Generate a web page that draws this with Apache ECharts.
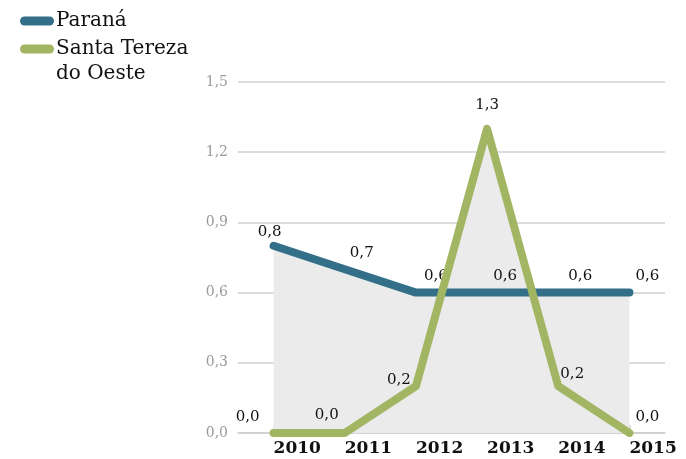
<!DOCTYPE html>
<html lang="pt-BR">
<head>
<meta charset="UTF-8">
<title>Paraná x Santa Tereza do Oeste</title>
<script src="https://cdn.jsdelivr.net/npm/echarts@6/dist/echarts.min.js"></script>
<style>
  body { margin: 0; background: #fff; }
  #chart { width: 686px; height: 459px; }
</style>
</head>
<body>
<div id="chart"></div>
<script>
// dados
const anos = ['2010', '2011', '2012', '2013', '2014', '2015'];
const parana = [0.8, 0.7, 0.6, 0.6, 0.6, 0.6];
const santaTereza = [0.0, 0.0, 0.2, 1.3, 0.2, 0.0];
const yTicks = [0, 0.3, 0.6, 0.9, 1.2, 1.5];

// deslocamento dos rótulos (x, y) por ponto
const offParana = [[-4, 0], [17, -2], [20, -2], [18, -2], [22, -2], [18, -2]];
const offSanta = [[-26, -2], [-18, -4], [-17, 8], [0, -10], [14, 2], [18, -2]];

const fmt = v => v.toFixed(1).replace('.', ',');
const serif = "'DejaVu Serif', serif";

function withLabels(values, offs) {
    return values.map((v, i) => ({
        value: v,
        label: { offset: offs[i] }
    }));
}

const chart = echarts.init(document.getElementById('chart'));

const lineBase = {
    type: 'line',
    symbol: 'circle',
    symbolSize: 1,
    z: 3,
    label: {
        show: true,
        position: 'top',
        distance: 6,
        formatter: p => fmt(p.value),
        color: '#111',
        fontFamily: serif,
        fontSize: 15
    },
    emphasis: { disabled: true }
};

const areaBase = {
    type: 'line',
    symbol: 'none',
    z: 1,
    lineStyle: { width: 0 },
    areaStyle: { color: '#ebebeb', opacity: 1 },
    silent: true,
    tooltip: { show: false }
};

chart.setOption({
    animation: false,
    grid: { left: 238, right: 21, top: 82, bottom: 26 },
    legend: {
        orient: 'vertical',
        left: 15,
        top: 2,
        itemWidth: 34,
        itemHeight: 9,
        itemGap: 0,
        icon: 'path://M4.5,0 H29.5 A4.5,4.5 0 0 1 29.5,9 H4.5 A4.5,4.5 0 0 1 4.5,0 Z',
        data: ['Paraná', 'Santa Tereza do Oeste'],
        formatter: n => n.replace(' do Oeste', ''),
        textStyle: { fontFamily: serif, fontSize: 20, color: '#111', lineHeight: 28, padding: [0, 0, 0, -3] }
    },
    // segunda linha do nome da legenda
    graphic: [{
        type: 'text',
        left: 56,
        top: 64,
        silent: true,
        style: { text: 'do Oeste', font: "20px 'DejaVu Serif', serif", fill: '#111' }
    }],
    xAxis: {
        type: 'category',
        data: anos,
        boundaryGap: true,
        axisLine: { lineStyle: { color: '#cfcfcf', width: 1.5 } },
        axisTick: { show: true, alignWithLabel: true, inside: true, length: 8, lineStyle: { color: '#cfcfcf', width: 1.5 } },
        axisLabel: {
            color: '#111',
            fontFamily: serif,
            fontSize: 17,
            fontWeight: 'bold',
            align: 'left',
            margin: 7
        }
    },
    yAxis: {
        type: 'value',
        min: yTicks[0],
        max: yTicks[yTicks.length - 1],
        interval: 0.3,
        axisLine: { show: false },
        axisTick: { show: false },
        splitLine: { lineStyle: { color: '#cfcfcf', width: 1.5 } },
        axisLabel: {
            color: '#9a9a9a',
            fontFamily: serif,
            fontSize: 14,
            margin: 10,
            formatter: v => fmt(v)
        }
    },
    series: [
        Object.assign({}, areaBase, { name: 'area-pr', data: parana }),
        Object.assign({}, areaBase, { name: 'area-st', data: santaTereza }),
        Object.assign({}, lineBase, {
            name: 'Paraná',
            color: '#336f88',
            data: withLabels(parana, offParana),
            lineStyle: { color: '#336f88', width: 8, cap: 'round', join: 'round' },
            itemStyle: { color: '#336f88' }
        }),
        Object.assign({}, lineBase, {
            name: 'Santa Tereza do Oeste',
            color: '#a1b562',
            z: 4,
            data: withLabels(santaTereza, offSanta),
            lineStyle: { color: '#a1b562', width: 8, cap: 'round', join: 'round' },
            itemStyle: { color: '#a1b562' }
        })
    ]
});
</script>
</body>
</html>
